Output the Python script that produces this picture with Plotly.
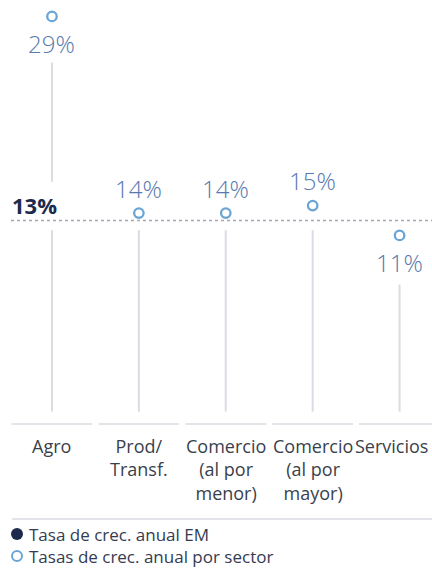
import plotly.graph_objects as go

# ---------------- data ----------------
categories = ["Agro", "Prod/<br>Transf.", "Comercio<br>(al por<br>menor)",
              "Comercio<br>(al por<br>mayor)", "Servicios"]
sector_growth = [29, 14, 14, 15, 11]          # Tasas de crec. anual por sector (%)
em_growth = 13                                 # Tasa de crec. anual EM (%)
legend_labels = ["Tasa de crec. anual EM", "Tasas de crec. anual por sector"]

# ---------------- style ----------------
W, H = 432, 569
FONT = "Open Sans"
BLUE_TXT = "#5879ad"
BLUE_MK = "#6aa5d6"
NAVY = "#1d2a4c"
GRAY_TXT = "#3a3f4c"
STEM = "#d9dce2"
SEP = "#e2e4e9"
label_side = ["below", "above", "above", "above", "below"]
cat_xshift = [0, 0, 0, 0, -8]   # keep the last label inside the canvas

# axis break: values above BREAK_AT are drawn shifted up (broken axis)
BREAK_AT, BREAK_SHIFT = 20, 11.4
STEM_BASE = -12.66
Y_RANGE = [-33.78, 42.60]
X_RANGE = [-0.598, 4.373]

disp = [v + BREAK_SHIFT if v > BREAK_AT else v for v in sector_growth]
xs = list(range(len(categories)))

# stems (with gaps around labels / EM line)
sx, sy = [], []
for i, (v, d, side) in enumerate(zip(sector_growth, disp, label_side)):
    top = em_growth - 1.3 if v >= em_growth else d - 6.6
    sx += [i, i, None]
    sy += [STEM_BASE, top, None]
    if side == "below" and v > em_growth:
        sx += [i, i, None]
        sy += [em_growth + 5.2, d - 6.2, None]

fig = go.Figure()
fig.add_trace(go.Scatter(x=sx, y=sy, mode="lines",
                         line=dict(color=STEM, width=2), hoverinfo="skip",
                         showlegend=False))
fig.add_trace(go.Scatter(x=xs, y=disp, mode="markers",
                         marker=dict(symbol="circle", size=9.5, color="white",
                                     line=dict(color=BLUE_MK, width=2.3)),
                         name=legend_labels[1], showlegend=False,
                         customdata=sector_growth,
                         hovertemplate="%{customdata}%<extra></extra>"))

def px_to_paper_y(py):
    return 1 - py / H

def px_to_paper_x(px):
    return px / W

annotations = []
for i, (v, d, side) in enumerate(zip(sector_growth, disp, label_side)):
    annotations.append(dict(
        x=i, y=d, xref="x", yref="y", text=f"{v}%", showarrow=False,
        yshift=-27 if side == "below" else 25, yanchor="middle",
        font=dict(family=FONT, size=24, color=BLUE_TXT, weight=300)))

# EM label
annotations.append(dict(
    x=px_to_paper_x(10), y=em_growth, xref="paper", yref="y", text=f"{em_growth}%",
    showarrow=False, xanchor="left", yanchor="middle", yshift=16,
    font=dict(family=FONT, size=22, color=NAVY, weight=700)))

# category labels
for i, c in enumerate(categories):
    annotations.append(dict(
        x=i, y=px_to_paper_y(432), xref="x", yref="paper", text=c,
        showarrow=False, xanchor="center", yanchor="top", align="center",
        xshift=cat_xshift[i],
        font=dict(family=FONT, size=18, color=GRAY_TXT, weight=400)))

# legend text (two lines)
annotations.append(dict(
    x=px_to_paper_x(27), y=px_to_paper_y(545), xref="paper", yref="paper",
    text="<br>".join(legend_labels), showarrow=False, xanchor="left",
    yanchor="middle", align="left",
    font=dict(family=FONT, size=17, color="#343b52", weight=400)))

shapes = []
# EM dotted line
shapes.append(dict(type="line", xref="paper", yref="y",
                   x0=px_to_paper_x(11), x1=1, y0=em_growth, y1=em_growth,
                   line=dict(color="#a3a8b3", width=1.5, dash="dot")))
# category separators
for i in xs:
    shapes.append(dict(type="line", xref="x", yref="paper",
                       x0=i - 0.465, x1=i + 0.465,
                       y0=px_to_paper_y(424), y1=px_to_paper_y(424),
                       line=dict(color=SEP, width=2)))
# bottom rule
shapes.append(dict(type="line", xref="paper", yref="paper",
                   x0=px_to_paper_x(12), x1=1,
                   y0=px_to_paper_y(519), y1=px_to_paper_y(519),
                   line=dict(color=SEP, width=2)))
# legend symbols
shapes.append(dict(type="circle", xref="paper", yref="paper",
                   x0=px_to_paper_x(11), x1=px_to_paper_x(23),
                   y0=px_to_paper_y(540), y1=px_to_paper_y(528),
                   fillcolor=NAVY, line=dict(color=NAVY, width=0)))
shapes.append(dict(type="circle", xref="paper", yref="paper",
                   x0=px_to_paper_x(12), x1=px_to_paper_x(22),
                   y0=px_to_paper_y(561), y1=px_to_paper_y(551),
                   fillcolor="white", line=dict(color=BLUE_MK, width=2)))

fig.update_layout(
    width=W, height=H, margin=dict(l=0, r=0, t=0, b=0),
    paper_bgcolor="white", plot_bgcolor="white",
    xaxis=dict(visible=False, range=X_RANGE, fixedrange=True),
    yaxis=dict(visible=False, range=Y_RANGE, fixedrange=True),
    annotations=annotations, shapes=shapes, showlegend=False,
)

fig.write_html("out.html")
